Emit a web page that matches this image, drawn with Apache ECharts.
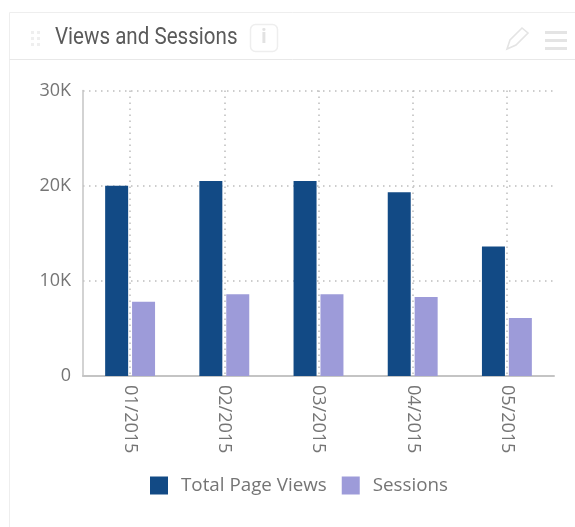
<!DOCTYPE html>
<html>
<head>
<meta charset="utf-8">
<style>html,body{margin:0;padding:0;background:#fff}#c{width:575px;height:527px}</style>
<script src="https://cdn.jsdelivr.net/npm/echarts@6/dist/echarts.min.js"></script>
</head>
<body>
<div id="c"></div>
<script>
const months = ['01/2015', '02/2015', '03/2015', '04/2015', '05/2015'];
const pageViews = [20000, 20500, 20500, 19300, 13600];
const sessions = [7800, 8600, 8600, 8300, 6100];
const panelTitle = 'Views and Sessions';

const textFont = '"Open Sans", sans-serif';
const chart = echarts.init(document.getElementById('c'), null, { renderer: 'canvas' });

// Panel header: frame, drag handle, title, info badge, edit and menu icons
const dots = [];
[31, 37].forEach(x => [31, 37, 43].forEach(y => dots.push({
  type: 'rect', shape: { x, y, width: 3, height: 3 }, style: { fill: '#efefef' }
})));
const bars = [31, 39, 47].map(y => ({
  type: 'rect', shape: { x: 545, y, width: 22, height: 3 }, style: { fill: '#e4e4e4' }
}));

chart.setOption({
  animation: false,
  backgroundColor: '#fff',
  color: ['#124a85', '#9d9bd9'],
  graphic: [
    { type: 'line', shape: { x1: 9.5, y1: 12.5, x2: 575, y2: 12.5 }, style: { stroke: '#eeeeee', lineWidth: 1 } },
    { type: 'line', shape: { x1: 9.5, y1: 12.5, x2: 9.5, y2: 527 }, style: { stroke: '#eeeeee', lineWidth: 1 } },
    { type: 'line', shape: { x1: 9.5, y1: 59.5, x2: 575, y2: 59.5 }, style: { stroke: '#e8e8e8', lineWidth: 1 } },
    ...dots,
    ...bars,
    { type: 'text', x: 55, y: 27, scaleX: 0.935, scaleY: 1.05, style: { text: panelTitle, fill: '#5a5a5a', font: '22px Roboto, sans-serif' } },
    { type: 'rect', shape: { x: 250.5, y: 24.5, width: 27, height: 27, r: 5 }, style: { fill: '#fff', stroke: '#eeeeee', lineWidth: 1.5 } },
    { type: 'text', x: 261, y: 28, style: { text: 'i', fill: '#e2e2e2', font: 'bold 19px "Open Sans", sans-serif' } },
    { type: 'polygon', shape: { points: [[507, 49], [510, 40], [522, 28], [528, 33], [516, 45]] }, style: { fill: '#fff', stroke: '#e4e4e4', lineWidth: 1.6 } }
  ],
  grid: { left: 83, right: 21, top: 90.5, bottom: 151, containLabel: false },
  legend: {
    left: 150,
    top: 476,
    padding: 0,
    itemWidth: 18,
    itemHeight: 18,
    itemGap: 15,
    icon: 'rect',
    textStyle: { color: '#757575', fontFamily: textFont, fontSize: 18.8, padding: [0, 0, 0, 8] },
    data: ['Total Page Views', 'Sessions']
  },
  xAxis: {
    type: 'category',
    data: months,
    axisLine: { lineStyle: { color: '#c4c4c4', width: 2 } },
    axisTick: { show: false },
    axisLabel: { rotate: -90, color: '#757575', fontFamily: textFont, fontSize: 18, margin: 9 },
    splitLine: { show: true, alignWithLabel: true, lineStyle: { color: '#bdbdbd', type: [1.5, 4.5], width: 1.5 } }
  },
  yAxis: {
    type: 'value',
    min: 0,
    max: 30000,
    interval: 10000,
    axisLine: { show: true, lineStyle: { color: '#c4c4c4', width: 1.5 } },
    axisTick: { show: false },
    axisLabel: {
      color: '#757575',
      fontFamily: textFont,
      fontSize: 18,
      margin: 12,
      padding: [3, 0, 0, 0],
      formatter: v => (v === 0 ? '0' : v / 1000 + 'K')
    },
    splitLine: { show: true, lineStyle: { color: '#bdbdbd', type: [1.5, 4.5], width: 1.5 } }
  },
  series: [
    { name: 'Total Page Views', type: 'bar', data: pageViews, barWidth: 23, barGap: '17%' },
    { name: 'Sessions', type: 'bar', data: sessions, barWidth: 23, barGap: '17%' }
  ]
});
</script>
</body>
</html>
